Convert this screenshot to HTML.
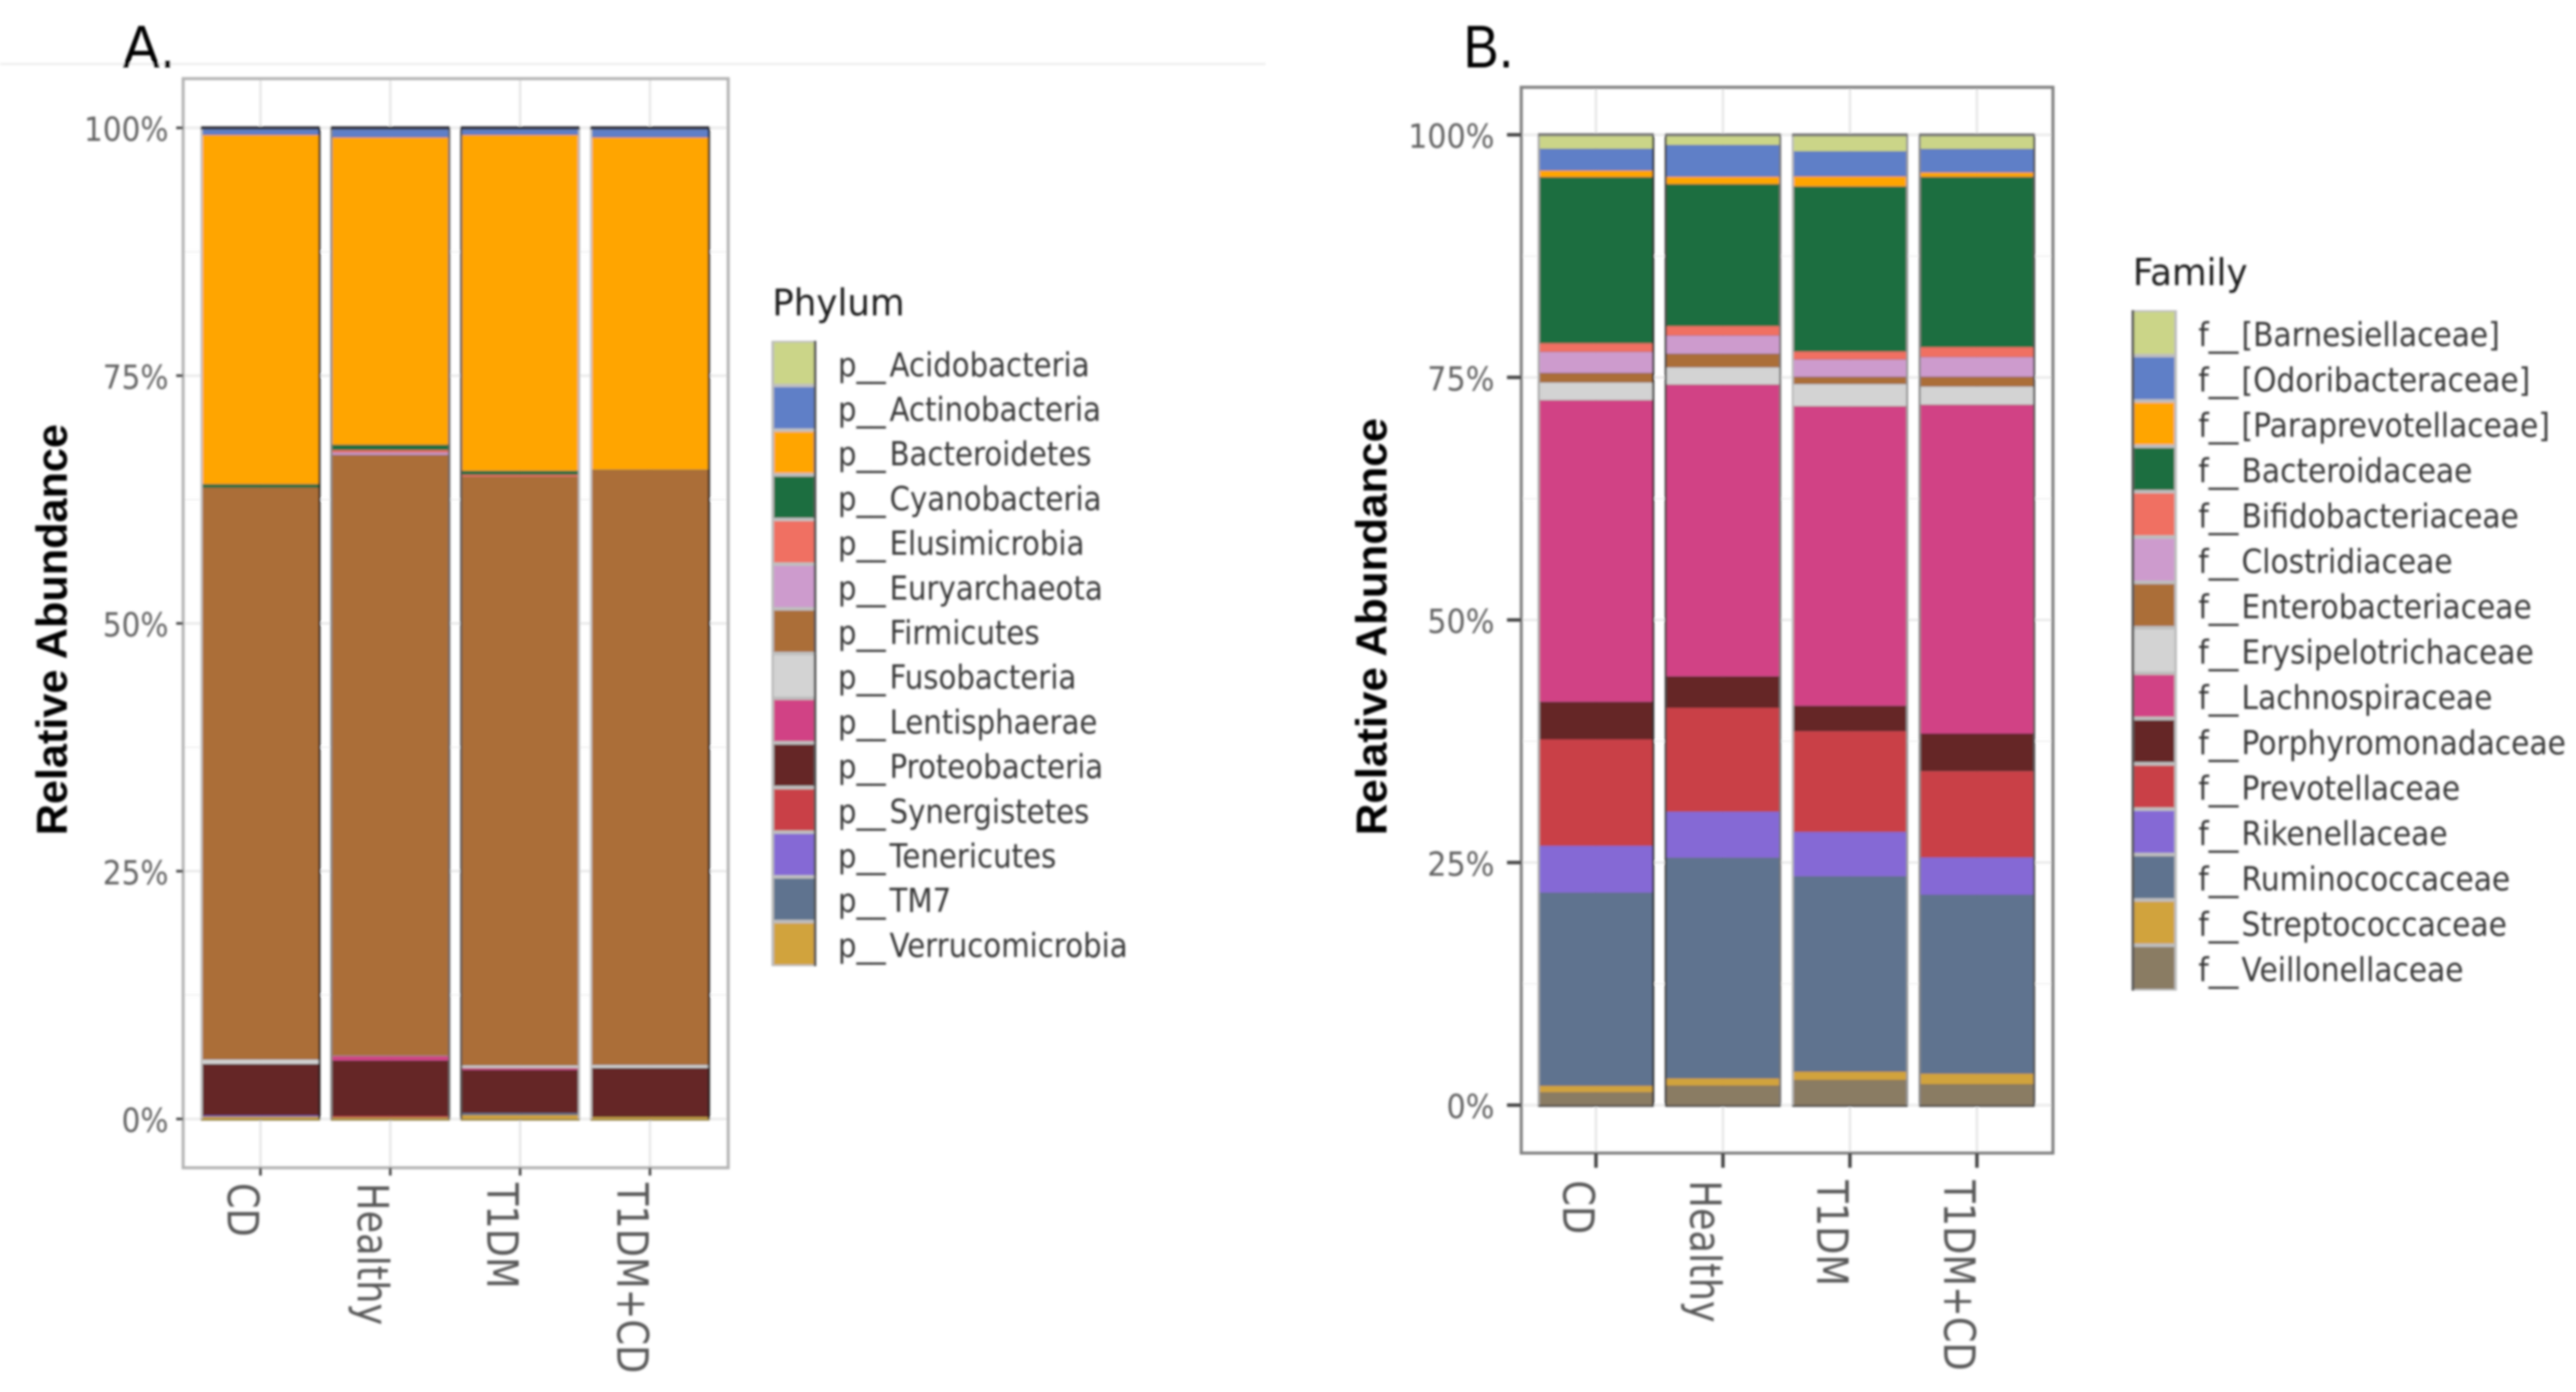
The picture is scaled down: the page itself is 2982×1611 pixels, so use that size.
<!DOCTYPE html>
<html lang="en">
<head>
<meta charset="utf-8">
<title>Relative abundance by phylum and family</title>
<style>
html,body{margin:0;padding:0;background:#fff;width:2982px;height:1611px;overflow:hidden}
svg{display:block}
text{font-family:"DejaVu Sans","Liberation Sans",sans-serif}
</style>
</head>
<body>
<svg id="figure" xmlns="http://www.w3.org/2000/svg" width="2982" height="1611" viewBox="0 0 2982 1611">
  <defs>
    <filter id="soft" x="0" y="0" width="100%" height="100%" filterUnits="userSpaceOnUse" primitiveUnits="userSpaceOnUse">
      <feGaussianBlur stdDeviation="1.2"/>
    </filter>
  </defs>
  <rect width="2982" height="1611" fill="#ffffff"/>
  <g id="root" filter="url(#soft)">
    <line x1="0" y1="74" x2="1465" y2="74" stroke="#f1f1f1" stroke-width="3"/>
    <text x="142" y="78" font-size="70" fill="#000" textLength="61" lengthAdjust="spacingAndGlyphs" style="font-family:'Liberation Sans',sans-serif">A.</text>
    <text x="1694" y="78" font-size="70" fill="#000" textLength="58" lengthAdjust="spacingAndGlyphs" style="font-family:'Liberation Sans',sans-serif">B.</text>
    <text transform="translate(77.3,966.7) rotate(-90)" font-size="50" font-weight="700" fill="#000" textLength="476" lengthAdjust="spacingAndGlyphs" style="font-family:'Liberation Sans',sans-serif">Relative Abundance</text>
    <text transform="translate(1605,966.7) rotate(-90)" font-size="50" font-weight="700" fill="#000" textLength="483" lengthAdjust="spacingAndGlyphs" style="font-family:'Liberation Sans',sans-serif">Relative Abundance</text>
    <text transform="translate(894,365) scale(.96,1)" font-size="43" fill="#1a1a1a">Phylum</text>
    <text transform="translate(2469,330) scale(.96,1)" font-size="43" fill="#1a1a1a">Family</text>
  </g>
</svg>
<script>
// Shared category and tick labels
const categories = ["CD", "Healthy", "T1DM", "T1DM+CD"];
const yTickValues = [0, 25, 50, 75, 100];
const yTickLabels = ["0%", "25%", "50%", "75%", "100%"];
const yMinorValues = [12.5, 37.5, 62.5, 87.5];

// Panel A: phylum names and percent values for CD, Healthy, T1DM, T1DM+CD
const phylumNames = ["p__Acidobacteria", "p__Actinobacteria", "p__Bacteroidetes", "p__Cyanobacteria", "p__Elusimicrobia", "p__Euryarchaeota", "p__Firmicutes", "p__Fusobacteria", "p__Lentisphaerae", "p__Proteobacteria", "p__Synergistetes", "p__Tenericutes", "p__TM7", "p__Verrucomicrobia"];
const acidobacteria = [0.15, 0.15, 0.15, 0.15];
const actinobacteria = [0.55, 0.8, 0.55, 0.8];
const bacteroidetes = [35.25, 31.02, 33.9, 33.55];
const cyanobacteria = [0.35, 0.53, 0.4, 0.02];
const elusimicrobia = [0, 0.25, 0.2, 0];
const euryarchaeota = [0, 0.25, 0, 0];
const firmicutes = [57.7, 60.6, 59.4, 60.03];
const fusobacteria = [0.45, 0.05, 0.25, 0.3];
const lentisphaerae = [0, 0.45, 0.2, 0];
const proteobacteria = [5.2, 5.6, 4.35, 4.95];
const synergistetes = [0, 0.15, 0, 0];
const tenericutes = [0.12, 0, 0, 0];
const tm7 = [0, 0, 0.2, 0];
const verrucomicrobia = [0.23, 0.15, 0.4, 0.2];

// Panel B: family names and percent values for CD, Healthy, T1DM, T1DM+CD
const familyNames = ["f__[Barnesiellaceae]", "f__[Odoribacteraceae]", "f__[Paraprevotellaceae]", "f__Bacteroidaceae", "f__Bifidobacteriaceae", "f__Clostridiaceae", "f__Enterobacteriaceae", "f__Erysipelotrichaceae", "f__Lachnospiraceae", "f__Porphyromonadaceae", "f__Prevotellaceae", "f__Rikenellaceae", "f__Ruminococcaceae", "f__Streptococcaceae", "f__Veillonellaceae"];
const barnesiellaceae = [1.45, 1.04, 1.69, 1.45];
const odoribacteraceae = [2.23, 3.26, 2.58, 2.40];
const paraprevotellaceae = [0.69, 0.77, 1.04, 0.48];
const bacteroidaceae = [17.12, 14.63, 17.01, 17.54];
const bifidobacteriaceae = [0.89, 0.98, 0.83, 1.03];
const clostridiaceae = [2.17, 1.87, 1.78, 2.02];
const enterobacteriaceae = [0.98, 1.40, 0.74, 1.01];
const erysipelotrichaceae = [1.83, 1.78, 2.29, 1.87];
const lachnospiraceae = [31.08, 30.07, 30.87, 33.9];
const porphyromonadaceae = [3.86, 3.23, 2.61, 3.86];
const prevotellaceae = [10.98, 10.71, 10.39, 8.9];
const rikenellaceae = [4.84, 4.76, 4.59, 3.86];
const ruminococcaceae = [19.88, 22.72, 20.1, 18.41];
const streptococcaceae = [0.69, 0.77, 0.89, 1.12];
const veillonellaceae = [1.32, 2.0, 2.58, 2.14];

const phylumSeries = [acidobacteria, actinobacteria, bacteroidetes, cyanobacteria, elusimicrobia, euryarchaeota, firmicutes, fusobacteria, lentisphaerae, proteobacteria, synergistetes, tenericutes, tm7, verrucomicrobia];
const familySeries = [barnesiellaceae, odoribacteraceae, paraprevotellaceae, bacteroidaceae, bifidobacteriaceae, clostridiaceae, enterobacteriaceae, erysipelotrichaceae, lachnospiraceae, porphyromonadaceae, prevotellaceae, rikenellaceae, ruminococcaceae, streptococcaceae, veillonellaceae];

// Fill colours
const phylumColors = ["#CBD588", "#5F7FC7", "#FFA506", "#1C6E40", "#F06F62", "#CD9BCD", "#AB6E38", "#D3D3D3", "#D14285", "#652526", "#C93F47", "#8569D5", "#5E738F", "#D1A33D"];
const familyColors = ["#CBD588", "#5F7FC7", "#FFA506", "#1C6E40", "#F06F62", "#CD9BCD", "#AB6E38", "#D3D3D3", "#D14285", "#652526", "#C93F47", "#8569D5", "#5E738F", "#D1A33D", "#8A7C64"];

const SVG_NS = "http://www.w3.org/2000/svg";
const root = document.getElementById("root");

function make(parent, tag, attrs, content) {
  const el = document.createElementNS(SVG_NS, tag);
  for (const k in attrs) el.setAttribute(k, attrs[k]);
  if (content !== undefined) el.textContent = content;
  parent.appendChild(el);
  return el;
}
function slug(s) {
  return s.toLowerCase().replace(/[^a-z0-9]+/g, "-").replace(/^-|-$/g, "");
}

function drawPanel(cfg, names, series, colors) {
  const xScale = i => cfg.x0 + i * cfg.step;
  const yScale = v => cfg.y0 - v * (cfg.y0 - cfg.y100) / 100;
  const p = cfg.id;

  const g = make(root, "g", {});
  
  

  // grid
  yMinorValues.forEach(v => {
    const line = make(g, "line", {x1: cfg.left, x2: cfg.right, y1: yScale(v), y2: yScale(v), stroke: "#f3f3f3", "stroke-width": 2});
    
    
  });
  yTickValues.forEach(v => {
    const line = make(g, "line", {x1: cfg.left, x2: cfg.right, y1: yScale(v), y2: yScale(v), stroke: "#ebebeb", "stroke-width": 3});
    
    
  });
  categories.forEach((c, i) => {
    const line = make(g, "line", {x1: xScale(i), x2: xScale(i), y1: cfg.top, y2: cfg.bottom, stroke: "#e8e8e8", "stroke-width": 3});
    
    
  });

  // stacked bars
  categories.forEach((c, i) => {
    const barGroup = make(g, "g", {});
    
    
    let base = 0;
    for (let s = series.length - 1; s >= 0; s--) {
      const top = base + series[s][i];
      const rect = make(barGroup, "rect", {
        x: xScale(i) - cfg.barW / 2,
        y: yScale(top),
        width: cfg.barW,
        height: yScale(base) - yScale(top),
        fill: colors[s],
        stroke: "rgba(60,60,60,0.18)",
        "stroke-width": 1
      });
      
      
      base = top;
    }
    const edge = cfg.edges[i];
    const xl = xScale(i) - cfg.barW / 2;
    const xr = xScale(i) + cfg.barW / 2;
    const leftEdge = make(barGroup, "line", {x1: xl, x2: xl, y1: yScale(base), y2: yScale(0), stroke: edge[0], "stroke-width": 2.5});
    
    
    const rightEdge = make(barGroup, "line", {x1: xr, x2: xr, y1: yScale(base), y2: yScale(0), stroke: edge[1], "stroke-width": 2.5});
    
    
    const topEdge = make(barGroup, "line", {x1: xl - 1, x2: xr + 1, y1: yScale(base), y2: yScale(base), stroke: cfg.topEdge, "stroke-width": 3.5});
    
    
    const bottomEdge = make(barGroup, "line", {x1: xl - 1, x2: xr + 1, y1: yScale(0) + 1, y2: yScale(0) + 1, stroke: cfg.bottomEdge, "stroke-width": 2});
    
    
  });

  // panel border
  const border = make(g, "rect", {x: cfg.left, y: cfg.top, width: cfg.right - cfg.left, height: cfg.bottom - cfg.top, fill: "none", stroke: cfg.border, "stroke-width": 3.5});
  
  

  // y axis
  yTickValues.forEach((v, i) => {
    const tick = make(g, "line", {x1: cfg.yTickX, x2: cfg.left, y1: yScale(v), y2: yScale(v), stroke: "#444", "stroke-width": cfg.tickW});
    
    
    const label = make(g, "text", {
      transform: "translate(" + cfg.yLabelX + "," + (yScale(v) + 15) + ") scale(" + cfg.yLabelScale + ",1)",
      "font-size": 38,
      "text-anchor": "end",
      fill: "#626262"
    }, yTickLabels[i]);
    
    
  });

  // x axis
  categories.forEach((c, i) => {
    const tick = make(g, "line", {x1: xScale(i), x2: xScale(i), y1: cfg.bottom, y2: cfg.bottom + cfg.xTickLen, stroke: "#444", "stroke-width": cfg.tickW});
    
    
    const label = make(g, "text", {
      transform: "translate(" + (xScale(i) - 38) + "," + cfg.xLabelY + ") rotate(90) scale(.85,1)",
      "font-size": 50,
      fill: "#585858"
    }, c);
    
    
  });

  // legend
  const legend = make(root, "g", {});
  
  
  names.forEach((n, i) => {
    const ky = cfg.legendY + i * cfg.legendStep;
    const entry = make(legend, "g", {});
    
    
    const back = make(entry, "rect", {x: cfg.keyX, y: ky, width: cfg.keyW, height: cfg.legendStep, fill: "#bdbdbd"});
    
    
    const swatch = make(entry, "rect", {x: cfg.keyX + 3, y: ky + 2, width: cfg.keyW - 6, height: cfg.legendStep - 4, fill: colors[i]});
    
    
    const side = make(entry, "rect", {x: cfg.keySideX, y: ky, width: 3, height: cfg.legendStep, fill: "#555"});
    
    
    const text = make(entry, "text", {
      transform: "translate(" + cfg.legendTextX + "," + (ky + cfg.legendStep / 2 + 15) + ") scale(" + cfg.legendScale + ",1)",
      "font-size": 38,
      fill: "#383838"
    });
    
    
    make(text, "tspan", {}, n.slice(0, 3));
    make(text, "tspan", {dx: cfg.legendGap}, n.slice(3));
  });
}

drawPanel({
  id: "a", left: 212, right: 843, top: 91, bottom: 1351.5,
  x0: 301.5, step: 150.3, barW: 136.5, y0: 1295, y100: 148,
  border: "#b4b4b4", topEdge: "#2c2c34", bottomEdge: "#9a8a50",
  edges: [["#c4c4c4", "#1f1f1f"], ["#8a8a8a", "#666"], ["#555", "#bbb"], ["#c8c8c8", "#1f1f1f"]],
  tickW: 3, yTickX: 204, yLabelX: 195, yLabelScale: 0.9, xTickLen: 9, xLabelY: 1369,
  keyX: 893, keyW: 52, keySideX: 942, legendY: 394.4, legendStep: 51.7, legendTextX: 970, legendScale: 0.89, legendGap: 5
}, phylumNames, phylumSeries, phylumColors);

drawPanel({
  id: "b", left: 1761, right: 2376.5, top: 101, bottom: 1334.5,
  x0: 1847.5, step: 147, barW: 132.5, y0: 1279, y100: 156,
  border: "#808080", topEdge: "#777", bottomEdge: "#444",
  edges: [["#aaa", "#333"], ["#444", "#777"], ["#bbb", "#999"], ["#888", "#555"]],
  tickW: 4, yTickX: 1744.5, yLabelX: 1730, yLabelScale: 0.92, xTickLen: 17, xLabelY: 1366,
  keyX: 2467.6, keyW: 52.4, keySideX: 2467.6, legendY: 359, legendStep: 52.5, legendTextX: 2544.7, legendScale: 0.905, legendGap: 4
}, familyNames, familySeries, familyColors);
</script>
</body>
</html>
